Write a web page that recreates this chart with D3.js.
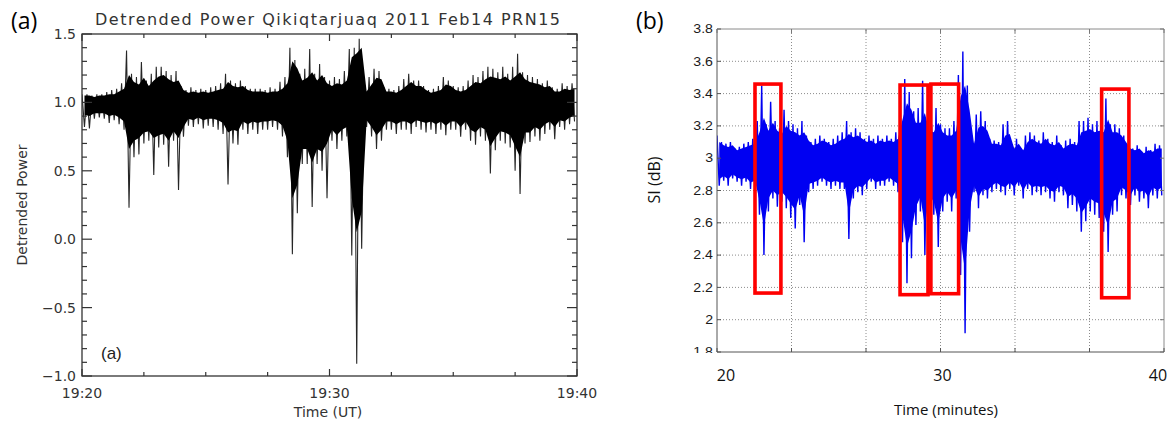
<!DOCTYPE html>
<html>
<head>
<meta charset="utf-8">
<script src="https://cdn.jsdelivr.net/npm/d3@7"></script>
<style>
  html, body { margin: 0; padding: 0; background: #fff; }
  svg { display: block; }
</style>
</head>
<body>
<svg id="chart" width="1174" height="423"></svg>
<script>
// ---------------- Panel (a): detrended power, minutes after 19:20 UT ----------------
const aTitle = "Detrended  Power Qikiqtarjuaq  2011  Feb14  PRN15";
const aTimeLabels = ["19:20", "19:30", "19:40"];
const aTimeLabelMinutes = [0, 10, 20];
const aBin = 0.2; // minutes per envelope sample

// Highest and lowest sample inside each 0.2-minute bin
const aHi = [
  1.06, 1.06, 1.05, 1.06, 1.06, 1.075, 1.09, 1.10, 1.14, 1.38,
  1.21, 1.185, 1.295, 1.16, 1.21, 1.26, 1.26, 1.23, 1.20, 1.23,
  1.12, 1.09, 1.11, 1.09, 1.10, 1.09, 1.11, 1.12, 1.14, 1.21,
  1.16, 1.14, 1.16, 1.12, 1.10, 1.10, 1.10, 1.09, 1.11, 1.10,
  1.15, 1.185, 1.40, 1.31, 1.21, 1.245, 1.39, 1.21, 1.28, 1.185,
  1.16, 1.185, 1.17, 1.23, 1.39, 1.40, 1.465, 1.10, 1.185, 1.245,
  1.23, 1.11, 1.10, 1.09, 1.12, 1.17, 1.21, 1.16, 1.16, 1.12,
  1.09, 1.10, 1.12, 1.185, 1.16, 1.12, 1.11, 1.12, 1.16, 1.20,
  1.185, 1.23, 1.26, 1.245, 1.22, 1.26, 1.21, 1.26, 1.355, 1.22,
  1.20, 1.185, 1.17, 1.14, 1.16, 1.11, 1.10, 1.14, 1.12, 1.14
];
const aLo = [
  0.82, 0.81, 0.88, 0.89, 0.88, 0.85, 0.87, 0.84, 0.80, 0.23,
  0.60, 0.62, 0.70, 0.72, 0.47, 0.67, 0.69, 0.53, 0.72, 0.36,
  0.75, 0.83, 0.82, 0.84, 0.81, 0.83, 0.82, 0.80, 0.77, 0.40,
  0.70, 0.69, 0.80, 0.77, 0.80, 0.77, 0.80, 0.80, 0.82, 0.80,
  0.75, 0.60, -0.11, 0.19, 0.55, 0.55, 0.235, 0.55, 0.50, 0.30,
  0.72, 0.66, 0.72, 0.75, -0.12, -0.91, -0.07, 0.82, 0.75, 0.66,
  0.72, 0.80, 0.80, 0.77, 0.80, 0.80, 0.77, 0.82, 0.80, 0.78,
  0.80, 0.77, 0.80, 0.76, 0.80, 0.80, 0.75, 0.80, 0.72, 0.69,
  0.75, 0.72, 0.48, 0.65, 0.72, 0.70, 0.67, 0.50, 0.33, 0.70,
  0.71, 0.75, 0.72, 0.77, 0.80, 0.73, 0.82, 0.80, 0.84, 0.86
];
// Edges of the saturated body of the trace in the same bins
const aBodyHi = [
  1.05, 1.05, 1.04, 1.05, 1.05, 1.06, 1.06, 1.08, 1.10, 1.20,
  1.15, 1.13, 1.18, 1.12, 1.16, 1.19, 1.20, 1.17, 1.15, 1.16,
  1.09, 1.07, 1.08, 1.07, 1.08, 1.07, 1.08, 1.09, 1.10, 1.15,
  1.12, 1.11, 1.12, 1.09, 1.08, 1.08, 1.08, 1.07, 1.08, 1.08,
  1.10, 1.14, 1.30, 1.25, 1.16, 1.18, 1.22, 1.16, 1.20, 1.14,
  1.12, 1.14, 1.13, 1.16, 1.33, 1.36, 1.40, 1.08, 1.13, 1.18,
  1.17, 1.08, 1.08, 1.07, 1.09, 1.12, 1.15, 1.12, 1.12, 1.09,
  1.07, 1.08, 1.09, 1.13, 1.12, 1.09, 1.08, 1.09, 1.12, 1.15,
  1.14, 1.17, 1.19, 1.18, 1.17, 1.19, 1.16, 1.19, 1.22, 1.17,
  1.15, 1.14, 1.13, 1.11, 1.12, 1.08, 1.08, 1.10, 1.09, 1.10
];
const aBodyLo = [
  0.91, 0.90, 0.92, 0.92, 0.92, 0.90, 0.91, 0.89, 0.86, 0.66,
  0.72, 0.74, 0.78, 0.79, 0.74, 0.76, 0.77, 0.72, 0.79, 0.74,
  0.82, 0.88, 0.87, 0.89, 0.87, 0.88, 0.88, 0.87, 0.85, 0.78,
  0.80, 0.79, 0.86, 0.84, 0.86, 0.85, 0.86, 0.86, 0.87, 0.86,
  0.83, 0.72, 0.30, 0.40, 0.66, 0.66, 0.56, 0.66, 0.64, 0.70,
  0.80, 0.76, 0.80, 0.82, 0.30, 0.05, 0.20, 0.87, 0.82, 0.76,
  0.80, 0.86, 0.86, 0.84, 0.86, 0.86, 0.84, 0.87, 0.86, 0.85,
  0.86, 0.84, 0.86, 0.83, 0.86, 0.86, 0.82, 0.86, 0.80, 0.78,
  0.82, 0.80, 0.68, 0.74, 0.79, 0.78, 0.76, 0.68, 0.60, 0.78,
  0.78, 0.82, 0.80, 0.84, 0.86, 0.82, 0.87, 0.86, 0.89, 0.90
];
const aYTicks = [-1.0, -0.5, 0.0, 0.5, 1.0, 1.5];

// ---------------- Panel (b): SI (dB) versus time in minutes ----------------
const bXLabels = ["20", "30", "40"];
const bXLabelValues = [20, 30, 40];
const bYTicks = [1.8, 2.0, 2.2, 2.4, 2.6, 2.8, 3.0, 3.2, 3.4, 3.6, 3.8];
const bBin = 0.2;
const bHi = [
  3.14, 3.10, 3.09, 3.10, 3.06, 3.07, 3.09, 3.10, 3.12, 3.23,
  3.45, 3.21, 3.35, 3.23, 3.185, 3.30, 3.23, 3.21, 3.185, 3.23,
  3.14, 3.10, 3.12, 3.14, 3.12, 3.10, 3.12, 3.14, 3.16, 3.23,
  3.16, 3.185, 3.16, 3.12, 3.14, 3.12, 3.14, 3.12, 3.14, 3.12,
  3.16, 3.35, 3.49, 3.41, 3.29, 3.31, 3.48, 3.23, 3.21, 3.31,
  3.21, 3.185, 3.185, 3.23, 3.515, 3.66, 3.45, 3.12, 3.27, 3.29,
  3.23, 3.12, 3.11, 3.10, 3.21, 3.23, 3.08, 3.12, 3.06, 3.14,
  3.16, 3.14, 3.11, 3.16, 3.12, 3.10, 3.14, 3.08, 3.11, 3.12,
  3.10, 3.23, 3.23, 3.25, 3.21, 3.23, 3.21, 3.37, 3.21, 3.21,
  3.185, 3.14, 3.08, 3.06, 3.08, 3.04, 3.07, 3.05, 3.09, 3.08
];
const bLo = [
  2.83, 2.86, 2.83, 2.875, 2.855, 2.83, 2.855, 2.81, 2.83, 2.65,
  2.40, 2.67, 2.75, 2.70, 2.73, 2.69, 2.63, 2.565, 2.71, 2.48,
  2.79, 2.81, 2.83, 2.855, 2.83, 2.81, 2.83, 2.81, 2.81, 2.50,
  2.75, 2.79, 2.77, 2.81, 2.855, 2.81, 2.83, 2.83, 2.855, 2.83,
  2.79, 2.48, 2.225, 2.38, 2.586, 2.67, 2.40, 2.71, 2.65, 2.45,
  2.67, 2.73, 2.67, 2.75, 2.277, 1.916, 2.545, 2.79, 2.69, 2.77,
  2.75, 2.79, 2.81, 2.79, 2.77, 2.81, 2.77, 2.83, 2.75, 2.81,
  2.77, 2.79, 2.77, 2.79, 2.75, 2.73, 2.79, 2.77, 2.69, 2.71,
  2.67, 2.545, 2.61, 2.67, 2.65, 2.63, 2.545, 2.42, 2.65, 2.67,
  2.77, 2.75, 2.71, 2.77, 2.73, 2.75, 2.69, 2.77, 2.75, 2.77
];
const bBodyHi = [
  3.10, 3.08, 3.07, 3.08, 3.05, 3.06, 3.07, 3.08, 3.09, 3.16,
  3.25, 3.17, 3.22, 3.17, 3.15, 3.20, 3.17, 3.16, 3.14, 3.16,
  3.11, 3.08, 3.09, 3.11, 3.10, 3.08, 3.09, 3.11, 3.12, 3.15,
  3.13, 3.14, 3.12, 3.10, 3.11, 3.09, 3.11, 3.10, 3.11, 3.10,
  3.12, 3.24, 3.34, 3.30, 3.22, 3.22, 3.28, 3.17, 3.16, 3.22,
  3.16, 3.14, 3.14, 3.17, 3.38, 3.45, 3.30, 3.09, 3.19, 3.20,
  3.17, 3.09, 3.09, 3.08, 3.14, 3.15, 3.06, 3.09, 3.05, 3.10,
  3.12, 3.10, 3.09, 3.12, 3.09, 3.08, 3.10, 3.06, 3.08, 3.09,
  3.08, 3.16, 3.17, 3.18, 3.16, 3.17, 3.16, 3.24, 3.16, 3.16,
  3.14, 3.10, 3.06, 3.05, 3.06, 3.03, 3.05, 3.04, 3.06, 3.06
];
const bBodyLo = [
  2.87, 2.89, 2.87, 2.90, 2.88, 2.87, 2.88, 2.85, 2.86, 2.74,
  2.58, 2.75, 2.80, 2.77, 2.79, 2.76, 2.72, 2.68, 2.77, 2.64,
  2.84, 2.85, 2.86, 2.88, 2.86, 2.85, 2.86, 2.85, 2.85, 2.66,
  2.80, 2.83, 2.82, 2.85, 2.88, 2.85, 2.86, 2.86, 2.88, 2.86,
  2.84, 2.64, 2.45, 2.55, 2.70, 2.76, 2.58, 2.77, 2.73, 2.60,
  2.75, 2.79, 2.75, 2.80, 2.50, 2.30, 2.68, 2.83, 2.76, 2.81,
  2.80, 2.83, 2.85, 2.83, 2.82, 2.85, 2.82, 2.86, 2.80, 2.85,
  2.82, 2.83, 2.82, 2.83, 2.80, 2.79, 2.83, 2.82, 2.76, 2.78,
  2.75, 2.66, 2.70, 2.75, 2.73, 2.72, 2.66, 2.58, 2.73, 2.75,
  2.82, 2.80, 2.77, 2.82, 2.79, 2.80, 2.76, 2.82, 2.80, 2.82
];
// Highlighted intervals: start/end minute, lower/upper SI
const boxStart = [21.70, 28.19, 29.57, 37.21];
const boxEnd   = [22.86, 29.44, 30.81, 38.43];
const boxLow   = [2.165, 2.155, 2.161, 2.136];
const boxHigh  = [3.459, 3.453, 3.459, 3.428];

// ====================================================================
const svg = d3.select("#chart");

// Zig-zag path through the bin extremes: top at bin start, bottom at bin middle
function envelopePoints(hi, lo, t0, bin) {
  const pts = [];
  hi.forEach((h, i) => {
    const t = t0 + i * bin;
    pts.push([t, h]);
    pts.push([t + bin / 2, lo[i]]);
  });
  return pts;
}
// Filled body through the bin centres
function bodyPath(x, y, hi, lo, t0, bin) {
  return d3.area()
    .x((d, i) => x(t0 + i * bin + bin / 2))
    .y0((d, i) => y(lo[i]))
    .y1(d => y(d))(hi);
}

// ---------------- Panel (a) ----------------
{
  const x = d3.scaleLinear().domain([0, 20]).range([82, 577]);
  const y = d3.scaleLinear().domain([-1, 1.5]).range([376, 34]);
  const ink = "#333";
  const font = "DejaVu Sans, sans-serif";
  const g = svg.append("g");

  g.append("clipPath").attr("id", "clipA")
    .append("rect").attr("x", x(0)).attr("y", y(1.5)).attr("width", x(20) - x(0)).attr("height", y(-1) - y(1.5));

  const plot = g.append("g").attr("clip-path", "url(#clipA)");
  plot.append("path")
    .attr("d", d3.line().x(d => x(d[0])).y(d => y(d[1]))(envelopePoints(aHi, aLo, 0, aBin)))
    .attr("fill", "none").attr("stroke", "#262626").attr("stroke-width", 1.1);
  plot.append("path").attr("d", bodyPath(x, y, aBodyHi, aBodyLo, 0, aBin)).attr("fill", "#000");

  // frame
  g.append("rect").attr("x", x(0)).attr("y", y(1.5)).attr("width", x(20) - x(0)).attr("height", y(-1) - y(1.5))
    .attr("fill", "none").attr("stroke", ink).attr("stroke-width", 1.3);

  // y ticks on both sides (major every 0.5, minor every 0.1)
  const minorY = d3.range(-10, 16).map(k => k / 10);
  minorY.forEach(v => {
    const major = Math.abs(v * 2 - Math.round(v * 2)) < 1e-6;
    const len = major ? 10 : 5;
    g.append("line").attr("x1", x(0)).attr("x2", x(0) + len).attr("y1", y(v)).attr("y2", y(v))
      .attr("stroke", ink).attr("stroke-width", 1.2);
    g.append("line").attr("x1", x(20)).attr("x2", x(20) - len).attr("y1", y(v)).attr("y2", y(v))
      .attr("stroke", ink).attr("stroke-width", 1.2);
  });
  // x ticks top and bottom every 2.5 minutes
  d3.range(0, 9).map(k => k * 2.5).forEach(m => {
    const len = (m % 10 === 0) ? 7 : 4;
    g.append("line").attr("x1", x(m)).attr("x2", x(m)).attr("y1", y(-1)).attr("y2", y(-1) - len)
      .attr("stroke", ink).attr("stroke-width", 1.2);
    g.append("line").attr("x1", x(m)).attr("x2", x(m)).attr("y1", y(1.5)).attr("y2", y(1.5) + len)
      .attr("stroke", ink).attr("stroke-width", 1.2);
  });

  // tick labels
  g.selectAll(".ayl").data(aYTicks).enter().append("text")
    .attr("x", x(0) - 6).attr("y", d => y(d)).attr("dy", "0.36em")
    .attr("text-anchor", "end").attr("font-family", font).attr("font-size", 14).attr("fill", ink)
    .text(d => d3.format(".1f")(d).replace("-", "\u2212"));
  g.selectAll(".axl").data(aTimeLabels).enter().append("text")
    .attr("x", (d, i) => x(aTimeLabelMinutes[i])).attr("y", 398)
    .attr("text-anchor", "middle").attr("font-family", font).attr("font-size", 14).attr("fill", ink)
    .text(d => d);

  g.append("text").attr("x", 328).attr("y", 417).attr("text-anchor", "middle")
    .attr("font-family", font).attr("font-size", 14).attr("fill", ink).text("Time (UT)");
  g.append("text").attr("transform", "translate(27,205) rotate(-90)").attr("text-anchor", "middle")
    .attr("font-family", font).attr("font-size", 14).attr("fill", ink).text("Detrended Power");
  g.append("text").attr("x", 95).attr("y", 25).attr("textLength", 465).attr("lengthAdjust", "spacing")
    .attr("font-family", font).attr("font-size", 16).attr("fill", ink).text(aTitle);
  g.append("text").attr("x", 101).attr("y", 359)
    .attr("font-family", "Liberation Sans, Arial, sans-serif").attr("font-size", 17).attr("fill", "#222").text("(a)");

  svg.append("text").attr("x", 11).attr("y", 29)
    .attr("font-family", "Open Sans, sans-serif").attr("font-size", 23).attr("fill", "#000").text("(a)");
}

// ---------------- Panel (b) ----------------
{
  const x = d3.scaleLinear().domain([20, 40]).range([717, 1164]);
  const y = d3.scaleLinear().domain([1.8, 3.8]).range([352, 29]);
  const g = svg.append("g");
  const gridX = d3.range(0, 7).map(k => 20 + k * 20 / 6);
  const blue = "#0000f2";

  // dotted grid
  gridX.slice(1, -1).forEach(v => {
    g.append("line").attr("x1", x(v)).attr("x2", x(v)).attr("y1", y(1.8)).attr("y2", y(3.8))
      .attr("stroke", "#8c8c8c").attr("stroke-width", 1).attr("stroke-dasharray", "1,2");
  });
  bYTicks.slice(1, -1).forEach(v => {
    g.append("line").attr("x1", x(20)).attr("x2", x(40)).attr("y1", y(v)).attr("y2", y(v))
      .attr("stroke", "#8c8c8c").attr("stroke-width", 1).attr("stroke-dasharray", "1,2");
  });

  g.append("clipPath").attr("id", "clipB")
    .append("rect").attr("x", x(20)).attr("y", y(3.8)).attr("width", x(40) - x(20)).attr("height", y(1.8) - y(3.8));
  const plot = g.append("g").attr("clip-path", "url(#clipB)");
  plot.append("path")
    .attr("d", d3.line().x(d => x(d[0])).y(d => y(d[1]))(envelopePoints(bHi, bLo, 20, bBin)))
    .attr("fill", "none").attr("stroke", blue).attr("stroke-width", 1.4);
  plot.append("path").attr("d", bodyPath(x, y, bBodyHi, bBodyLo, 20, bBin)).attr("fill", blue);

  // highlight boxes
  boxStart.forEach((s, i) => {
    g.append("rect").attr("x", x(s)).attr("y", y(boxHigh[i]))
      .attr("width", x(boxEnd[i]) - x(s)).attr("height", y(boxLow[i]) - y(boxHigh[i]))
      .attr("fill", "none").attr("stroke", "#ff0000").attr("stroke-width", 3.6);
  });

  // frame
  g.append("line").attr("x1", x(20)).attr("x2", x(40)).attr("y1", y(3.8)).attr("y2", y(3.8)).attr("stroke", "#8a8a8a");
  g.append("line").attr("x1", x(40)).attr("x2", x(40)).attr("y1", y(3.8)).attr("y2", y(1.8)).attr("stroke", "#8a8a8a");
  g.append("line").attr("x1", x(20)).attr("x2", x(40)).attr("y1", y(1.8)).attr("y2", y(1.8)).attr("stroke", "#555");
  g.append("line").attr("x1", x(20)).attr("x2", x(20)).attr("y1", y(3.8)).attr("y2", y(1.8)).attr("stroke", "#555");

  // inward ticks
  bYTicks.forEach(v => {
    g.append("line").attr("x1", x(20)).attr("x2", x(20) + 4).attr("y1", y(v)).attr("y2", y(v)).attr("stroke", "#555");
    g.append("line").attr("x1", x(40)).attr("x2", x(40) - 4).attr("y1", y(v)).attr("y2", y(v)).attr("stroke", "#777");
  });
  gridX.forEach(v => {
    g.append("line").attr("x1", x(v)).attr("x2", x(v)).attr("y1", y(1.8)).attr("y2", y(1.8) - 4).attr("stroke", "#555");
    g.append("line").attr("x1", x(v)).attr("x2", x(v)).attr("y1", y(3.8)).attr("y2", y(3.8) + 4).attr("stroke", "#777");
  });

  // y tick labels; the lowest one is cut by the panel edge
  g.append("clipPath").attr("id", "clipBLabels")
    .append("rect").attr("x", 660).attr("y", 0).attr("width", 60).attr("height", 353);
  g.append("g").attr("clip-path", "url(#clipBLabels)")
    .selectAll("text").data(bYTicks).enter().append("text")
    .attr("transform", d => `translate(${x(20) - 4},${y(d)}) scale(1.18,1)`)
    .attr("dy", "0.35em").attr("text-anchor", "end")
    .attr("font-family", "Liberation Sans, Arial, sans-serif").attr("font-size", 12).attr("fill", "#1a1a1a")
    .text(d => d3.format("~g")(d));

  const labelFont = "Open Sans, sans-serif";
  g.selectAll(".bxl").data(bXLabels).enter().append("text")
    .attr("x", (d, i) => x(bXLabelValues[i])).attr("y", 381)
    .attr("dx", (d, i) => [9, 2, -6][i])
    .attr("text-anchor", "middle").attr("font-family", labelFont).attr("font-size", 16).attr("fill", "#111")
    .text(d => d);
  g.append("text").attr("x", 946).attr("y", 415).attr("text-anchor", "middle")
    .attr("font-family", labelFont).attr("font-size", 15).attr("fill", "#111").text("Time (minutes)");
  g.append("text").attr("transform", "translate(660,180) rotate(-90)").attr("text-anchor", "middle")
    .attr("font-family", labelFont).attr("font-size", 16).attr("fill", "#111").text("SI (dB)");

  svg.append("text").attr("x", 636).attr("y", 29)
    .attr("font-family", "Open Sans, sans-serif").attr("font-size", 23).attr("fill", "#000").text("(b)");
}
</script>
</body>
</html>
